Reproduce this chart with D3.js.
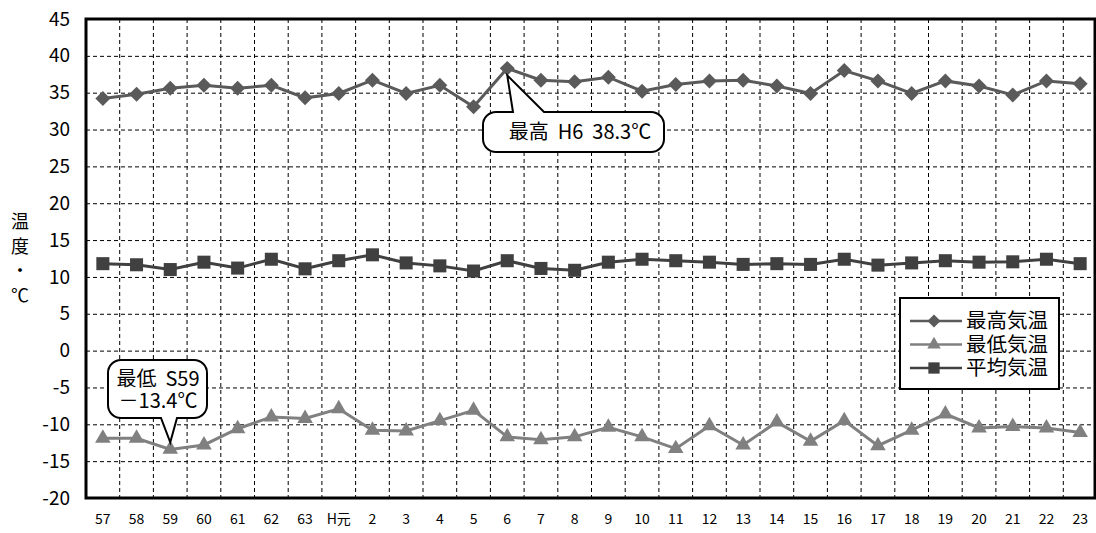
<!DOCTYPE html>
<html>
<head>
<meta charset="utf-8">
<script src="https://cdn.jsdelivr.net/npm/d3@7"></script>
<style>
  body { margin: 0; background: #fff; }
  svg { display: block; font-family: "Noto Sans CJK JP", "Noto Sans", sans-serif; }
</style>
</head>
<body>
<svg id="chart"></svg>
<script>
const width = 1096,
      height = 533

// data
const years = ["57", "58", "59", "60", "61", "62", "63", "H元", "2", "3", "4", "5", "6", "7", "8",
               "9", "10", "11", "12", "13", "14", "15", "16", "17", "18", "19", "20", "21", "22", "23"]
const maxTemp = [34.2, 34.8, 35.6, 36.0, 35.6, 36.0, 34.3, 34.9, 36.7, 34.9, 36.0, 33.1, 38.3, 36.7, 36.5,
                 37.1, 35.2, 36.1, 36.6, 36.7, 35.9, 34.9, 38.0, 36.6, 34.9, 36.6, 35.9, 34.7, 36.6, 36.2]
const minTemp = [-11.9, -11.9, -13.4, -12.8, -10.6, -9.0, -9.2, -7.9, -10.8, -10.9, -9.5, -8.1, -11.7, -12.1, -11.7,
                 -10.4, -11.7, -13.3, -10.2, -12.8, -9.7, -12.3, -9.5, -12.9, -10.8, -8.6, -10.5, -10.3, -10.5, -11.1]
const avgTemp = [11.8, 11.65, 11.0, 12.0, 11.2, 12.4, 11.1, 12.2, 13.0, 11.9, 11.5, 10.8, 12.2, 11.15, 10.9,
                 12.0, 12.4, 12.2, 12.0, 11.7, 11.8, 11.7, 12.4, 11.6, 11.9, 12.2, 12.0, 12.05, 12.4, 11.8]
const yTicks = [45, 40, 35, 30, 25, 20, 15, 10, 5, 0, -5, -10, -15, -20]
const seriesNames = ["最高気温", "最低気温", "平均気温"]

const plotLeft = 86, plotRight = 1097, plotTop = 19, plotBottom = 498

const svg = d3.select("#chart").attr("width", width).attr("height", height)

const x = d3.scaleBand().domain(years).range([plotLeft, plotRight])
const y = d3.scaleLinear().domain([-20, 45]).range([plotBottom, plotTop])
const cx = d => x(d) + x.bandwidth() / 2

// horizontal grid
svg.append("g")
    .attr("transform", `translate(${plotLeft},0)`)
    .call(d3.axisLeft(y).tickValues(yTicks.filter(v => v > -20 && v < 45)).tickSize(-(plotRight - plotLeft)).tickFormat(""))
    .call(g => g.select(".domain").remove())
    .selectAll("line")
    .attr("stroke", "#000")
    .attr("stroke-dasharray", "4,3")

// vertical grid at band edges
svg.append("g")
    .selectAll("line")
    .data(years.slice(1))
    .enter()
    .append("line")
    .attr("x1", d => x(d))
    .attr("x2", d => x(d))
    .attr("y1", plotTop)
    .attr("y2", plotBottom)
    .attr("stroke", "#000")
    .attr("stroke-dasharray", "4,3")

// frame
svg.append("rect")
    .attr("x", plotLeft)
    .attr("y", plotTop)
    .attr("width", plotRight - plotLeft - 2)
    .attr("height", plotBottom - plotTop)
    .attr("fill", "none")
    .attr("stroke", "#000")
    .attr("stroke-width", 3)

// y tick labels (plain hyphen minus like the original)
svg.append("g")
    .attr("transform", `translate(${plotLeft},0)`)
    .call(d3.axisLeft(y).tickValues(yTicks).tickSize(0).tickPadding(16).tickFormat(d => String(d)))
    .call(g => g.select(".domain").remove())
    .selectAll("text")
    .attr("font-size", 19)
    .attr("font-family", "'Noto Sans CJK JP', sans-serif")
    .attr("fill", "#000")

// x tick labels
svg.append("g")
    .attr("transform", `translate(0,${plotBottom})`)
    .call(d3.axisBottom(x).tickSize(0).tickPadding(16))
    .call(g => g.select(".domain").remove())
    .selectAll("text")
    .attr("font-size", 14)
    .attr("font-family", "'Noto Sans CJK JP', sans-serif")
    .attr("fill", "#000")

// y title, stacked
const yTitle = ["温", "度", "・", "℃"]
svg.append("g")
    .selectAll("text")
    .data(yTitle)
    .enter()
    .append("text")
    .attr("x", 20)
    .attr("y", (d, i) => 222 + i * 24.5)
    .attr("dy", "0.36em")
    .attr("text-anchor", "middle")
    .attr("font-size", 18)
    .text(d => d)

const series = [
    {name: seriesNames[0], values: maxTemp, color: "#5a5a5a", symbol: d3.symbolSquare, size: 112, rot: 45},
    {name: seriesNames[1], values: minTemp, color: "#808080", symbol: d3.symbolTriangle, size: 105, rot: 0},
    {name: seriesNames[2], values: avgTemp, color: "#404040", symbol: d3.symbolSquare, size: 170, rot: 0}
]

const line = d3.line().x((d, i) => cx(years[i])).y(d => y(d))

series.forEach(s => {
    svg.append("path")
        .attr("d", line(s.values))
        .attr("fill", "none")
        .attr("stroke", s.color)
        .attr("stroke-width", 3)

    svg.append("g")
        .selectAll("path")
        .data(s.values)
        .enter()
        .append("path")
        .attr("d", d3.symbol().type(s.symbol).size(s.size))
        .attr("transform", (d, i) => `translate(${cx(years[i])},${y(d)}) rotate(${s.rot})`)
        .attr("fill", s.color)
})

// legend
const lg = svg.append("g")
lg.append("rect")
    .attr("x", 900).attr("y", 298)
    .attr("width", 159).attr("height", 91)
    .attr("fill", "#fff")
    .attr("stroke", "#000")
    .attr("stroke-width", 2)

series.forEach((s, i) => {
    const ly = 321 + i * 23.5
    lg.append("line")
        .attr("x1", 910).attr("x2", 962)
        .attr("y1", ly).attr("y2", ly)
        .attr("stroke", s.color)
        .attr("stroke-width", 2.5)
    lg.append("path")
        .attr("d", d3.symbol().type(s.symbol).size(s.size * 0.75))
        .attr("transform", `translate(934,${ly}) rotate(${s.rot})`)
        .attr("fill", s.color)
    lg.append("text")
        .attr("x", 966)
        .attr("y", ly)
        .attr("dy", "0.36em")
        .attr("font-size", 20.5)
        .text(s.name)
})

// callouts
const callout = (box, b1, b2, tip, side) => {
    const p = d3.path(), r = box.r
    p.moveTo(box.x0 + r, box.y0)
    if (side === "top") {
        p.lineTo(b1, box.y0); p.lineTo(tip[0], tip[1]); p.lineTo(b2, box.y0)
    }
    p.lineTo(box.x1 - r, box.y0)
    p.arcTo(box.x1, box.y0, box.x1, box.y0 + r, r)
    p.lineTo(box.x1, box.y1 - r)
    p.arcTo(box.x1, box.y1, box.x1 - r, box.y1, r)
    if (side === "bottom") {
        p.lineTo(b2, box.y1); p.lineTo(tip[0], tip[1]); p.lineTo(b1, box.y1)
    }
    p.lineTo(box.x0 + r, box.y1)
    p.arcTo(box.x0, box.y1, box.x0, box.y1 - r, r)
    p.lineTo(box.x0, box.y0 + r)
    p.arcTo(box.x0, box.y0, box.x0 + r, box.y0, r)
    p.closePath()
    svg.append("path")
        .attr("d", p.toString())
        .attr("fill", "#fff")
        .attr("stroke", "#000")
        .attr("stroke-width", 2)
}

const hiIdx = maxTemp.indexOf(d3.max(maxTemp))
const loIdx = minTemp.indexOf(d3.min(minTemp))

callout({x0: 483, y0: 112, x1: 664, y1: 152, r: 13}, 513, 544,
        [cx(years[hiIdx]), y(maxTemp[hiIdx]) + 7], "top")
svg.append("text")
    .attr("x", 580).attr("y", 132).attr("dy", "0.36em")
    .attr("text-anchor", "middle")
    .attr("font-size", 20)
    .attr("xml:space", "preserve")
    .text(`最高  H${years[hiIdx]}  ${maxTemp[hiIdx]}℃`)

callout({x0: 108, y0: 360, x1: 207, y1: 418, r: 13}, 161, 177,
        [cx(years[loIdx]), y(minTemp[loIdx]) - 7], "bottom")
svg.append("text")
    .attr("x", 158).attr("y", 379).attr("dy", "0.36em")
    .attr("text-anchor", "middle")
    .attr("font-size", 20)
    .attr("xml:space", "preserve")
    .text(`最低  S${years[loIdx]}`)
svg.append("text")
    .attr("x", 158).attr("y", 401).attr("dy", "0.36em")
    .attr("text-anchor", "middle")
    .attr("font-size", 20)
    .text(`－${Math.abs(minTemp[loIdx])}℃`)
</script>
</body>
</html>
